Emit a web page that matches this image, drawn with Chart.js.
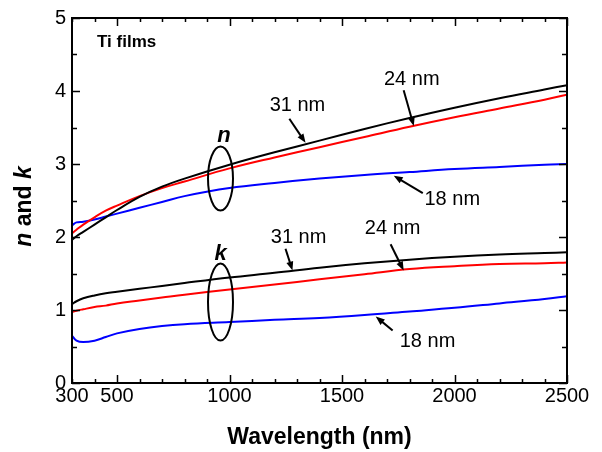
<!DOCTYPE html>
<html>
<head>
<meta charset="utf-8">
<script src="https://cdn.jsdelivr.net/npm/chart.js@4/dist/chart.umd.min.js"></script>
<style>
  html, body { margin: 0; padding: 0; background: #fff; }
  #wrap { width: 602px; height: 452px; position: relative; }
</style>
</head>
<body>
<div id="wrap"><canvas id="nk-chart"></canvas></div>
<script>
// optical constants of Ti films vs wavelength
const wavelength = [300, 320, 350, 400, 450, 500, 600, 700, 800, 1000, 1200, 1400, 1600, 1800, 2000, 2200, 2400, 2500];

const n31 = [1.96, 2.01, 2.07, 2.17, 2.27, 2.37, 2.55, 2.69, 2.80, 2.99, 3.16, 3.32, 3.48, 3.63, 3.77, 3.90, 4.02, 4.08];
const n24 = [2.05, 2.10, 2.17, 2.27, 2.36, 2.43, 2.56, 2.67, 2.76, 2.94, 3.09, 3.23, 3.37, 3.51, 3.64, 3.76, 3.88, 3.95];
const n18 = [2.16, 2.20, 2.21, 2.24, 2.28, 2.32, 2.40, 2.48, 2.56, 2.67, 2.74, 2.80, 2.85, 2.89, 2.93, 2.96, 2.99, 3.00];

const k31 = [1.08, 1.12, 1.16, 1.20, 1.23, 1.25, 1.29, 1.33, 1.37, 1.445, 1.51, 1.58, 1.64, 1.69, 1.73, 1.76, 1.78, 1.79];
const k24 = [0.97, 0.99, 1.01, 1.04, 1.06, 1.09, 1.13, 1.17, 1.21, 1.28, 1.35, 1.42, 1.49, 1.56, 1.60, 1.63, 1.64, 1.65];
const k18 = [0.65, 0.58, 0.56, 0.58, 0.63, 0.68, 0.74, 0.78, 0.805, 0.835, 0.865, 0.89, 0.93, 0.98, 1.03, 1.09, 1.15, 1.19];

const xTickLabels = [300, 500, 1000, 1500, 2000, 2500];
const yTickLabels = [0, 1, 2, 3, 4, 5];

// thickness labels + arrows: [text, labelX, labelY, fromX, fromY, toX, toY]
const notes = [
    ["31 nm", 1302, 3.80, 1266, 3.62, 1338, 3.29],
    ["24 nm", 1810, 4.16, 1774, 4.01, 1819, 3.52],
    ["18 nm", 1990, 2.52, 1859, 2.60, 1730, 2.84],
    ["31 nm", 1307, 2.00, 1249, 1.84, 1280, 1.54],
    ["24 nm", 1725, 2.12, 1716, 1.90, 1774, 1.54],
    ["18 nm", 1880, 0.57, 1725, 0.72, 1650, 0.91]
];

const BLACK = "#000000", RED = "#ff0000", BLUE = "#0000ff";

function series(values, color) {
    return {
        data: wavelength.map((w, i) => ({x: w, y: values[i]})),
        borderColor: color,
        borderWidth: 2,
        pointRadius: 0,
        fill: false,
        tension: 0.4
    };
}

const FONT = "'Liberation Sans', Arial, sans-serif";

const decor = {
    id: "decor",
    afterDraw(chart) {
        const ctx = chart.ctx;
        const xs = chart.scales.x, ys = chart.scales.y;
        const a = chart.chartArea;
        const px = v => xs.getPixelForValue(v);
        const py = v => ys.getPixelForValue(v);

        ctx.save();
        ctx.strokeStyle = BLACK;
        ctx.fillStyle = BLACK;
        ctx.lineWidth = 2;

        // frame
        ctx.strokeRect(a.left, a.top, a.right - a.left, a.bottom - a.top);

        // inward ticks on all four sides
        ctx.lineWidth = 1.5;
        ctx.beginPath();
        for (let w = 300; w <= 2500; w += 100) {
            const len = (w % 500 === 0) ? 8 : 4;
            const x = Math.round(px(w)) + 0.5;
            ctx.moveTo(x, a.bottom); ctx.lineTo(x, a.bottom - len);
            ctx.moveTo(x, a.top); ctx.lineTo(x, a.top + len);
        }
        for (let v = 0; v <= 5; v += 0.5) {
            const len = Number.isInteger(v) ? 8 : 5;
            const y = Math.round(py(v)) + 0.5;
            ctx.moveTo(a.left, y); ctx.lineTo(a.left + len, y);
            ctx.moveTo(a.right, y); ctx.lineTo(a.right - len, y);
        }
        ctx.stroke();

        // ellipses grouping the n and k curves
        ctx.lineWidth = 2;
        ctx.beginPath();
        ctx.ellipse(px(960), py(2.80), 12.5, 32, 0, 0, Math.PI * 2);
        ctx.stroke();
        ctx.beginPath();
        ctx.ellipse(px(960), py(1.11), 12.5, 38.5, 0, 0, Math.PI * 2);
        ctx.stroke();

        ctx.textAlign = "center";
        ctx.textBaseline = "middle";
        ctx.font = "italic bold 22px " + FONT;
        ctx.fillText("n", px(975), py(3.38));
        ctx.fillText("k", px(960), py(1.77));

        // thickness labels with arrows
        ctx.font = "20px " + FONT;
        notes.forEach(([t, lx, ly, fx, fy, tx, ty]) => {
            ctx.fillText(t, px(lx), py(ly));
            const x1 = px(fx), y1 = py(fy), x2 = px(tx), y2 = py(ty);
            const ang = Math.atan2(y2 - y1, x2 - x1);
            ctx.lineWidth = 2;
            ctx.beginPath();
            ctx.moveTo(x1, y1);
            ctx.lineTo(x2 - 6 * Math.cos(ang), y2 - 6 * Math.sin(ang));
            ctx.stroke();
            ctx.beginPath();
            ctx.moveTo(x2, y2);
            ctx.lineTo(x2 - 9 * Math.cos(ang) + 3.5 * Math.sin(ang), y2 - 9 * Math.sin(ang) - 3.5 * Math.cos(ang));
            ctx.lineTo(x2 - 9 * Math.cos(ang) - 3.5 * Math.sin(ang), y2 - 9 * Math.sin(ang) + 3.5 * Math.cos(ang));
            ctx.closePath();
            ctx.fill();
        });

        // sample label
        ctx.textAlign = "left";
        ctx.font = "bold 17px " + FONT;
        ctx.fillText("Ti films", 97, 42);

        // x axis title
        ctx.textAlign = "center";
        ctx.font = "bold 23px " + FONT;
        ctx.fillText("Wavelength (nm)", (a.left + a.right) / 2, 438);

        // y axis title, n and k in italics
        ctx.translate(25, (a.top + a.bottom) / 2 + 6);
        ctx.rotate(-Math.PI / 2);
        const parts = [["n", "italic bold 23px "], [" and ", "bold 23px "], ["k", "italic bold 23px "]];
        let total = 0;
        parts.forEach(p => { ctx.font = p[1] + FONT; total += ctx.measureText(p[0]).width; });
        let cx = -total / 2;
        ctx.textAlign = "left";
        parts.forEach(p => {
            ctx.font = p[1] + FONT;
            ctx.fillText(p[0], cx, 0);
            cx += ctx.measureText(p[0]).width;
        });
        ctx.restore();
    }
};

new Chart(document.getElementById("nk-chart"), {
    type: "line",
    data: {
        datasets: [
            series(n31, BLACK), series(n24, RED), series(n18, BLUE),
            series(k31, BLACK), series(k24, RED), series(k18, BLUE)
        ]
    },
    options: {
        responsive: true,
        maintainAspectRatio: false,
        animation: false,
        layout: {padding: {left: 0, right: 35, top: 16, bottom: 0}},
        plugins: {legend: {display: false}, tooltip: {enabled: false}},
        scales: {
            x: {
                type: "linear",
                min: 300, max: 2500,
                grid: {display: false, drawTicks: false},
                border: {display: false},
                afterBuildTicks: s => { s.ticks = xTickLabels.map(v => ({value: v})); },
                afterFit: s => { s.height = 69; },
                ticks: {color: BLACK, font: {family: FONT, size: 20}, padding: 1, maxRotation: 0, autoSkip: false,
                        callback: v => String(v)}
            },
            y: {
                min: 0, max: 5,
                grid: {display: false, drawTicks: false},
                border: {display: false},
                afterBuildTicks: s => { s.ticks = yTickLabels.map(v => ({value: v})); },
                afterFit: s => { s.width = 72; },
                ticks: {color: BLACK, font: {family: FONT, size: 20}, padding: 6}
            }
        }
    },
    plugins: [decor]
});
</script>
</body>
</html>
